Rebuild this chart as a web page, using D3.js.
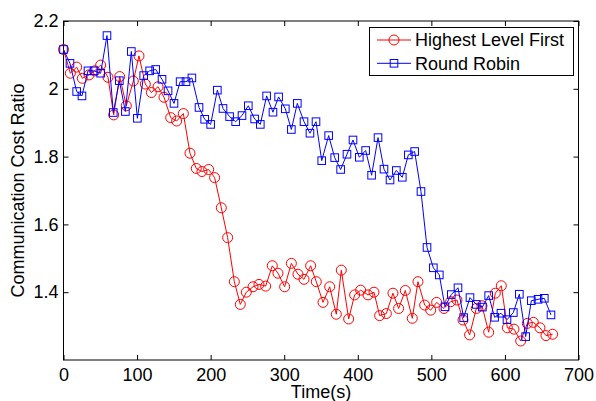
<!DOCTYPE html>
<html>
<head>
<meta charset="utf-8">
<script src="https://cdn.jsdelivr.net/npm/d3@7"></script>
<style>
  html, body { margin: 0; padding: 0; background: #fff; }
  svg text { font-family: "Liberation Sans", Arial, Helvetica, sans-serif; fill: #000; }
</style>
</head>
<body>
<svg id="vis" width="596" height="401"></svg>
<script>
// data
const hlfTime = [0, 9.3, 17.9, 25.6, 34.7, 42.4, 50.5, 60.5, 68.2, 76.4,
  85.4, 94.9, 102.6, 111.2, 119.4, 128.5, 136.6, 145.7, 153.8, 162.9,
  171.9, 180.5, 188.2, 197.3, 205.4, 214.5, 223.1, 232.2, 240.3, 248.5,
  257.6, 265.7, 274.8, 283.8, 291.5, 300.6, 309.7, 318.7, 326.9, 335.9,
  343.6, 352.7, 361.8, 370.8, 377.6, 387.6, 395.7, 403.9, 413.9, 422,
  429.7, 438.8, 447.8, 455.5, 464.6, 474.1, 481.8, 490.9, 499.1, 507.2,
  517.2, 526.2, 534.8, 543, 552, 561.1, 568.8, 577.9, 586.9, 595.1,
  603.3, 612.3, 621.4, 630.4, 638.6, 647.6, 655.8, 664.8];
const hlfRatio = [2.116, 2.046, 2.064, 2.031, 2.041, 2.053, 2.07, 2.034, 1.923, 2.036,
  1.95, 2.023, 2.097, 2.014, 1.989, 2.006, 1.975, 1.915, 1.905, 1.927,
  1.81, 1.765, 1.756, 1.762, 1.738, 1.649, 1.561, 1.431, 1.364, 1.4,
  1.416, 1.423, 1.418, 1.478, 1.456, 1.416, 1.485, 1.453, 1.438, 1.478,
  1.431, 1.37, 1.416, 1.335, 1.465, 1.321, 1.392, 1.406, 1.392, 1.4,
  1.331, 1.337, 1.397, 1.352, 1.405, 1.323, 1.431, 1.362, 1.347, 1.37,
  1.352, 1.372, 1.377, 1.318, 1.274, 1.352, 1.36, 1.282, 1.397, 1.419,
  1.295, 1.291, 1.256, 1.308, 1.311, 1.295, 1.272, 1.276];

const rrTime = [0, 8.8, 17.9, 25.1, 33.3, 41.5, 50.5, 59.1, 67.7, 75.9,
  84.1, 92.2, 100.4, 109, 117.1, 125.3, 133.9, 142.1, 150.2, 158.5,
  166.5, 174.5, 184.2, 191.9, 200, 209.1, 216.8, 225.8, 234, 242.6,
  251.2, 259.8, 267.5, 276.1, 284.7, 292.4, 301.5, 309.7, 317.8, 326.9,
  335, 343.2, 351, 360.4, 368.6, 376.7, 385.3, 393.5, 402.1, 410.7,
  418.8, 427.5, 435.6, 443.8, 452.4, 460.5, 468.7, 477.3, 485.9, 494.1,
  502.7, 510.8, 518.5, 527.1, 536.2, 543.9, 552.5, 561.1, 569.3, 577.9,
  586, 594.6, 602.8, 611.4, 619.6, 628.2, 635.9, 645, 653.5, 662.6];
const rrRatio = [2.116, 2.075, 1.992, 1.979, 2.053, 2.053, 2.046, 2.157, 1.93, 2.024,
  1.933, 2.11, 1.913, 2.039, 2.053, 2.057, 2.028, 1.994, 1.957, 2.021,
  2.021, 2.032, 1.945, 1.91, 1.895, 1.996, 1.942, 1.918, 1.903, 1.921,
  1.95, 1.911, 1.895, 1.979, 1.931, 1.976, 1.941, 1.88, 1.957, 1.903,
  1.869, 1.903, 1.788, 1.862, 1.797, 1.762, 1.807, 1.849, 1.798, 1.818,
  1.745, 1.856, 1.763, 1.731, 1.759, 1.739, 1.805, 1.815, 1.697, 1.532,
  1.472, 1.451, 1.357, 1.393, 1.413, 1.325, 1.384, 1.364, 1.356, 1.39,
  1.326, 1.338, 1.319, 1.34, 1.394, 1.269, 1.375, 1.379, 1.382, 1.333];

const xTicks = [0, 100, 200, 300, 400, 500, 600, 700];
const yTicks = [1.4, 1.6, 1.8, 2.0, 2.2];
const seriesNames = ["Highest Level First", "Round Robin"];

const BOX = {left: 63.5, right: 578.5, top: 21, bottom: 360};
const FONT = 18;

const svg = d3.select("#vis");

const x = d3.scaleLinear().domain([0, 700]).range([BOX.left, BOX.right]);
const y = d3.scaleLinear().domain([1.2, 2.2]).range([BOX.bottom, BOX.top]);

// axes, MATLAB style: ticks pointing inward on all four sides
const tickLen = 5;
svg.append("g")
  .attr("transform", `translate(0,${BOX.bottom})`)
  .call(d3.axisBottom(x).tickValues(xTicks).tickSize(-tickLen).tickPadding(8).tickFormat(d3.format("d")))
  .call(g => g.select(".domain").remove());
svg.append("g")
  .attr("transform", `translate(0,${BOX.top})`)
  .call(d3.axisTop(x).tickValues(xTicks).tickSize(-tickLen).tickFormat(""))
  .call(g => g.select(".domain").remove());
svg.append("g")
  .attr("transform", `translate(${BOX.left},0)`)
  .call(d3.axisLeft(y).tickValues(yTicks).tickSize(-tickLen).tickPadding(5)
    .tickFormat(d => d === 2 ? "2" : d3.format(".1f")(d)))
  .call(g => g.select(".domain").remove());
svg.append("g")
  .attr("transform", `translate(${BOX.right},0)`)
  .call(d3.axisRight(y).tickValues(yTicks).tickSize(-tickLen).tickFormat(""))
  .call(g => g.select(".domain").remove());

svg.selectAll(".tick line").attr("stroke", "#000").attr("stroke-width", 1);
svg.selectAll(".tick text").style("font-size", FONT + "px");

svg.append("rect")
  .attr("x", BOX.left).attr("y", BOX.top)
  .attr("width", BOX.right - BOX.left).attr("height", BOX.bottom - BOX.top)
  .attr("fill", "none").attr("stroke", "#000").attr("stroke-width", 1);

// axis labels
svg.append("text")
  .attr("x", (BOX.left + BOX.right) / 2).attr("y", 398)
  .attr("text-anchor", "middle").style("font-size", FONT + "px")
  .text("Time(s)");
svg.append("text")
  .attr("transform", `translate(24,${(BOX.top + BOX.bottom) / 2}) rotate(-90)`)
  .attr("text-anchor", "middle").style("font-size", FONT + "px")
  .text("Communication Cost Ratio");

// series
const line = d3.line().x(d => x(d[0])).y(d => y(d[1]));
const hlf = d3.zip(hlfTime, hlfRatio);
const rr = d3.zip(rrTime, rrRatio);

const plot = svg.append("g");

plot.append("path").datum(hlf)
  .attr("d", line).attr("fill", "none").attr("stroke", "#ff0000").attr("stroke-width", 1);
plot.selectAll("circle.hlf").data(hlf).enter().append("circle")
  .attr("class", "hlf")
  .attr("cx", d => x(d[0])).attr("cy", d => y(d[1])).attr("r", 5)
  .attr("fill", "none").attr("stroke", "#ff0000").attr("stroke-width", 1);

plot.append("path").datum(rr)
  .attr("d", line).attr("fill", "none").attr("stroke", "#0000ff").attr("stroke-width", 1);
plot.selectAll("rect.rr").data(rr).enter().append("rect")
  .attr("class", "rr")
  .attr("x", d => x(d[0]) - 3.8).attr("y", d => y(d[1]) - 3.8)
  .attr("width", 7.6).attr("height", 7.6)
  .attr("fill", "none").attr("stroke", "#0000ff").attr("stroke-width", 1);

// legend
const legend = svg.append("g");
legend.append("rect")
  .attr("x", 369.5).attr("y", 27.5).attr("width", 204).attr("height", 48)
  .attr("fill", "#fff").attr("stroke", "#000").attr("stroke-width", 1);

const colours = ["#ff0000", "#0000ff"];
seriesNames.forEach((name, i) => {
  const ly = 40 + i * 23.3;
  legend.append("line")
    .attr("x1", 377).attr("x2", 411).attr("y1", ly).attr("y2", ly)
    .attr("stroke", colours[i]).attr("stroke-width", 1);
  if (i === 0) {
    legend.append("circle").attr("cx", 394).attr("cy", ly).attr("r", 5)
      .attr("fill", "none").attr("stroke", colours[i]);
  } else {
    legend.append("rect").attr("x", 394 - 3.8).attr("y", ly - 3.8)
      .attr("width", 7.6).attr("height", 7.6)
      .attr("fill", "none").attr("stroke", colours[i]);
  }
  legend.append("text")
    .attr("x", 415).attr("y", ly).attr("dy", "0.35em")
    .style("font-size", FONT + "px")
    .text(name);
});
</script>
</body>
</html>
